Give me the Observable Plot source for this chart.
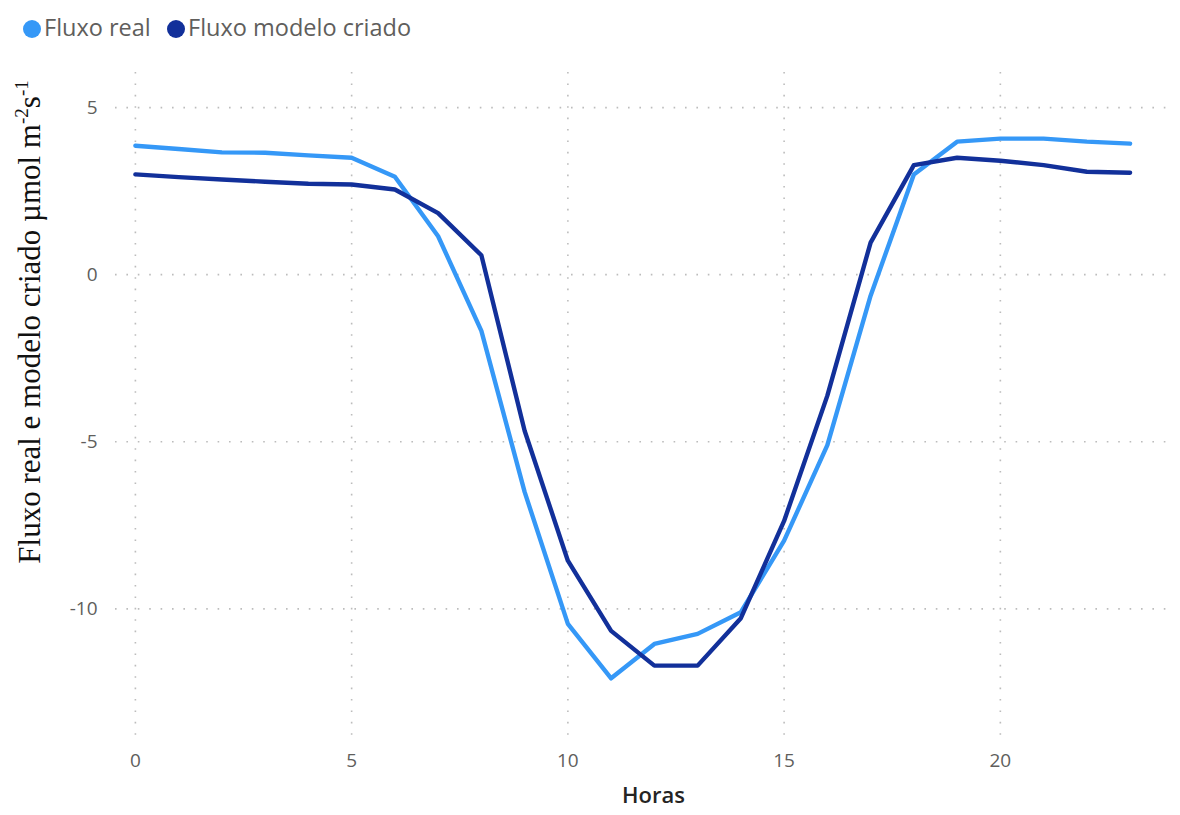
<!DOCTYPE html>
<html>
<head>
<meta charset="utf-8">
<script src="https://cdn.jsdelivr.net/npm/d3@7"></script>
<script src="https://cdn.jsdelivr.net/npm/@observablehq/plot@0.6"></script>
<style>
  html, body { margin: 0; padding: 0; background: #fff; }
  #legend { height: 50px; position: relative; font-family: "Open Sans", "Noto Sans", sans-serif; font-size: 23.5px; color: #605E5C; }
  .dot { position: absolute; top: 20px; width: 18px; height: 18px; border-radius: 50%; }
  .lbl { position: absolute; top: 29px; transform: translateY(-55%); white-space: nowrap; line-height: 1; }
  #chart svg { display: block; }
</style>
</head>
<body>
<div id="legend"></div>
<div id="chart"></div>
<script>
const seriesNames = ["Fluxo real", "Fluxo modelo criado"];
const seriesColors = ["#3598F7", "#12309A"];
const horas = [0,1,2,3,4,5,6,7,8,9,10,11,12,13,14,15,16,17,18,19,20,21,22,23];
const fluxoReal = [3.86,3.76,3.66,3.65,3.57,3.50,2.93,1.15,-1.68,-6.5,-10.45,-12.08,-11.05,-10.75,-10.1,-7.96,-5.1,-0.63,3.0,3.98,4.07,4.07,3.98,3.92];
const fluxoModelo = [3.0,2.92,2.85,2.78,2.72,2.7,2.55,1.84,0.58,-4.67,-8.56,-10.66,-11.7,-11.7,-10.28,-7.37,-3.62,0.96,3.28,3.5,3.41,3.28,3.08,3.05];
const xTicks = [0,5,10,15,20];
const yTicks = [-10,-5,0,5];

const data = [];
horas.forEach((h, i) => {
  data.push({hora: h, valor: fluxoReal[i], serie: seriesNames[0]});
  data.push({hora: h, valor: fluxoModelo[i], serie: seriesNames[1]});
});

// legend
const legend = document.getElementById("legend");
const dotLeft = [23, 167];
const textLeft = [44, 188];
seriesNames.forEach((n, i) => {
  const d = document.createElement("span");
  d.className = "dot";
  d.style.left = dotLeft[i] + "px";
  d.style.background = seriesColors[i];
  legend.appendChild(d);
  const t = document.createElement("span");
  t.className = "lbl";
  t.style.left = textLeft[i] + "px";
  t.textContent = n;
  legend.appendChild(t);
});

const gridStyle = {stroke: "#b5b5b5", strokeOpacity: 0.9, strokeWidth: 1.6, strokeDasharray: "1.6,9.8"};

const plot = Plot.plot({
  width: 1180,
  height: 765,
  marginLeft: 115,
  marginRight: 5,
  marginTop: 22,
  marginBottom: 73,
  style: {fontFamily: "'Open Sans', 'Noto Sans', sans-serif", background: "#fff"},
  x: {domain: [-0.46, 24.05]},
  y: {domain: [-14.0, 6.05]},
  color: {domain: seriesNames, range: seriesColors},
  marks: [
    Plot.gridX(xTicks, {...gridStyle}),
    Plot.gridY(yTicks, {...gridStyle}),
    Plot.axisX(xTicks, {tickSize: 0, tickPadding: 11, fontSize: 19, color: "#605E5C", label: "Horas", labelAnchor: "center", labelArrow: "none", labelOffset: 60, tickFormat: d => String(d)}),
    Plot.axisY(yTicks, {tickSize: 0, tickPadding: 18, fontSize: 19, color: "#605E5C", label: null, tickFormat: d => String(d)}),
    Plot.line(data, {x: "hora", y: "valor", z: "serie", stroke: "serie", strokeWidth: 4.4, strokeLinejoin: "round", strokeLinecap: "round"})
  ]
});

document.getElementById("chart").appendChild(plot);

const svg = d3.select(plot);
svg.selectAll("[aria-label='x-axis label'] text")
  .attr("font-size", 22).attr("font-weight", 600).attr("fill", "#252423").attr("dx", 8);

// y-axis title with superscripts (serif)
const yt = svg.append("text")
  .attr("transform", "translate(40, 272) rotate(-90)")
  .attr("text-anchor", "middle")
  .attr("font-family", "'Liberation Serif', 'Times New Roman', serif")
  .attr("font-size", 31)
  .attr("fill", "#111");
yt.append("tspan").text("Fluxo real e modelo criado µmol m");
yt.append("tspan").attr("font-size", 19).attr("dy", -12).text("-2");
yt.append("tspan").attr("dy", 12).text("s");
yt.append("tspan").attr("font-size", 19).attr("dy", -12).text("-1");
</script>
</body>
</html>
